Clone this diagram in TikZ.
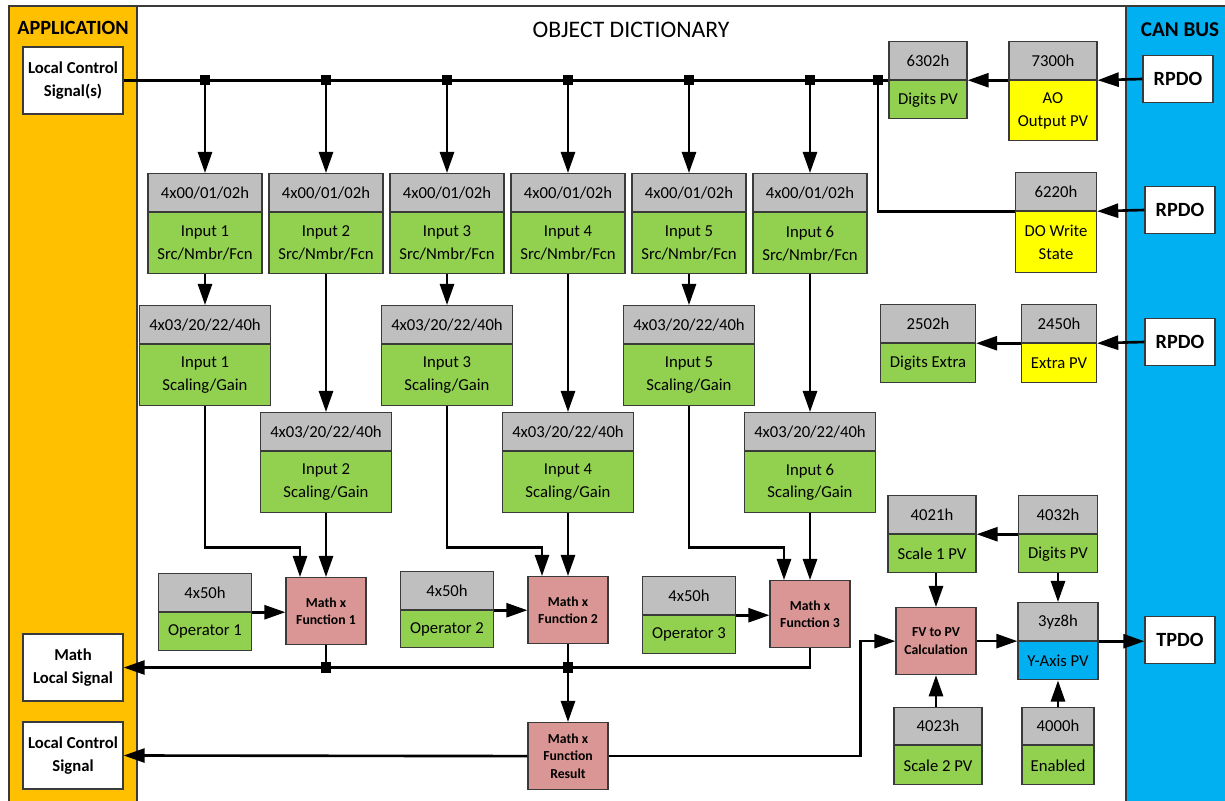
\documentclass[tikz,border=0pt]{standalone}
\usepackage{fontspec}
\setmainfont{Carlito}
\usetikzlibrary{arrows.meta,calc}
\definecolor{appor}{HTML}{FFC000}
\definecolor{canbl}{HTML}{00B0F0}
\definecolor{hdrgr}{HTML}{BFBFBF}
\definecolor{pvgrn}{HTML}{92D050}
\definecolor{pvyel}{HTML}{FFFF00}
\definecolor{fnpnk}{HTML}{DA9694}
\definecolor{edgegr}{HTML}{3A3A3A}
\newcommand{\pxl}{0.02cm}
% name, x, y top, width, header height, body height, body colour, index, text
\newcommand{\odbox}[9]{%
  \node[hdr, minimum width=#4*\pxl, minimum height=#5*\pxl] (#1h) at (#2,#3) {#8};
  \node[bdy, fill=#7, minimum width=#4*\pxl, minimum height=#6*\pxl] (#1) at (#1h.south) {#9};
}

\begin{document}
\begin{tikzpicture}[x=0.02cm, y=-0.02cm,
    hdr/.style={draw=edgegr, line width=0.7pt, fill=hdrgr, anchor=north, inner sep=0pt,
      font=\fontsize{9.5}{13}\selectfont},
    bdy/.style={draw=edgegr, line width=0.7pt, anchor=north, inner sep=0pt, align=center,
      font=\fontsize{9.5}{13}\selectfont},
    fnbox/.style={draw=edgegr, line width=0.7pt, fill=fnpnk, anchor=north, inner sep=0pt,
      align=center, minimum width=80*\pxl, minimum height=67*\pxl,
      font=\bfseries\fontsize{7.8}{10}\selectfont},
    sigbox/.style={draw=edgegr, line width=0.7pt, fill=white, inner sep=0pt, align=center,
      minimum width=100*\pxl, minimum height=67*\pxl, font=\bfseries\fontsize{9.5}{13}\selectfont},
    pdobox/.style={draw=edgegr, line width=0.7pt, fill=white, inner sep=0pt,
      minimum width=70*\pxl, minimum height=47*\pxl, font=\bfseries\fontsize{11.5}{13}\selectfont},
    jct/.style={fill=black, inner sep=0pt, minimum size=6pt},
    wire/.style={line width=1.5pt},
    arr/.style={wire, -{Triangle[length=12pt,width=8pt]}}]
    \useasboundingbox (0,0) rectangle (1225,801);
    % frame
    \draw[edgegr, line width=0.8pt] (137,6) -- (1126,6);
    \draw[edgegr, line width=0.8pt, fill=appor] (9,6) rectangle (137,812);
    \draw[edgegr, line width=0.8pt, fill=canbl] (1126,6) rectangle (1240,812);
    \node[font=\bfseries\fontsize{11.5}{13}\selectfont] (apptitle) at (73,28) {APPLICATION};
    \node[font=\bfseries\fontsize{12}{13}\selectfont] (cantitle) at (1180,30) {CAN BUS};
    \node[font=\fontsize{13.5}{15}\selectfont] (odtitle) at (631,30) {OBJECT DICTIONARY};

    % application signals
    \node[sigbox] (lcs) at (73,80.5) {Local Control\\Signal(s)};
    \node[sigbox] (mls) at (73,667.5) {Math\\Local Signal};
    \node[sigbox] (lcs2) at (73,755.5) {Local Control\\Signal};

    % inputs
    \foreach \i/\cx in {1/205,2/326,3/447,4/568,5/689,6/810}{
      \odbox{s\i}{\cx}{173}{114}{38}{61}{pvgrn}{4x00/01/02h}{Input \i\\Src/Nmbr/Fcn}
      \node[jct] (j\i) at (\cx,80) {};
    }
    \foreach \i/\cx/\ty in {1/205/305,2/326/412,3/447/305,4/568/412,5/689/305,6/810/412}{
      \odbox{sc\i}{\cx}{\ty}{131}{38}{61}{pvgrn}{4x03/20/22/40h}{Input \i\\Scaling/Gain}
    }
    \node[jct] (j7) at (878,80) {};

    % math functions
    \node[fnbox] (m1) at (326,577) {Math x\\Function 1};
    \node[fnbox] (m2) at (568,576) {Math x\\Function 2};
    \node[fnbox] (m3) at (810,580) {Math x\\Function 3};
    \node[fnbox] (mr) at (568,722) {Math x\\Function\\Result};
    \odbox{op1}{205}{573}{93}{38}{38}{pvgrn}{4x50h}{Operator 1}
    \odbox{op2}{447}{571}{93}{38}{37}{pvgrn}{4x50h}{Operator 2}
    \odbox{op3}{689}{576}{93}{38}{38}{pvgrn}{4x50h}{Operator 3}

    % can bus side
    \odbox{d63}{928}{41}{78}{38}{38}{pvgrn}{6302h}{Digits PV}
    \odbox{ao}{1053}{41}{88}{38}{60}{pvyel}{7300h}{AO\\Output PV}
    \odbox{do}{1056}{172}{81}{38}{61}{pvyel}{6220h}{DO Write\\State}
    \odbox{de}{928}{304}{95}{38}{39}{pvgrn}{2502h}{Digits Extra}
    \odbox{ex}{1059}{304}{75}{38}{39}{pvyel}{2450h}{Extra PV}
    \node[pdobox] (rp1) at (1178,79) {RPDO};
    \node[pdobox] (rp2) at (1180,210) {RPDO};
    \node[pdobox] (rp3) at (1180,342) {RPDO};

    \odbox{sa}{932}{495}{88}{38}{38}{pvgrn}{4021h}{Scale 1 PV}
    \odbox{dp}{1058}{495}{79}{38}{38}{pvgrn}{4032h}{Digits PV}
    \node[fnbox] (fv) at (936,607) {FV to PV\\Calculation};
    \odbox{ya}{1058}{602}{80}{38}{38}{canbl}{3yz8h}{Y-Axis PV}
    \odbox{sb}{938}{707}{88}{37}{39}{pvgrn}{4023h}{Scale 2 PV}
    \odbox{en}{1058}{707}{72}{37}{39}{pvgrn}{4000h}{Enabled}
    \node[pdobox] (tp) at (1180,640) {TPDO};

    % top bus
    \draw[wire] (lcs.east) -- (lcs.east -| d63h.south west);
    \foreach \i in {1,...,6}{
      \draw[arr] (j\i.center) -- (s\i h.north);
      \draw[arr] (s\i.south) -- (sc\i h.north);
    }
    \draw[wire] (j7.center) |- (doh.south west);

    % scaling to math
    \foreach \i/\m in {1/1,3/2,5/3}
      \draw[arr] (sc\i.south) -- ++(0,141) -| ($(m\m.north)+(-26,0)$);
    \foreach \i/\m in {2/1,4/2,6/3}
      \draw[arr] (sc\i.south) -- (m\m.north);
    \foreach \i in {1,2,3}
      \draw[arr] (op\i h.south east) -- (op\i h.south east -| m\i.west);

    % bottom bus
    \node[jct] (k1) at (m1.south |- mls.east) {};
    \node[jct] (k2) at (m2.south |- mls.east) {};
    \draw[wire] (m1.south) -- (k1.center);
    \draw[wire] (m2.south) -- (k2.center);
    \draw[arr] (m3.south) |- (mls.east);
    \draw[arr] (k2.center) -- (mr.north);
    \draw[arr] (mr.west) -- (lcs2.east);
    \coordinate (fvin) at ($(fv.west)+(-35,0)$);
    \draw[arr] (mr.east) -| (fvin) -- (fv.west);

    % pdo links
    \draw[arr] (rp1.west) -- (aoh.south east);
    \draw[arr] (aoh.south west) -- (d63h.south east);
    \draw[arr] (rp2.west) -- (doh.south east);
    \draw[arr] (rp3.west) -- (exh.south east);
    \draw[arr] (exh.south west) -- (deh.south east);

    % y-axis calculation
    \draw[arr] (dph.south west) -- (sah.south east);
    \draw[arr] (sa.south -| fv.north) -- (fv.north);
    \draw[arr] (dp.south) -- (yah.north);
    \draw[arr] (fv.east) -- (fv.east -| yah.south west);
    \draw[arr] (sbh.north -| fv.south) -- (fv.south);
    \draw[arr] (enh.north) -- (ya.south);
    \draw[arr] (yah.south east) -- (yah.south east -| tp.west);
\end{tikzpicture}
\end{document}
